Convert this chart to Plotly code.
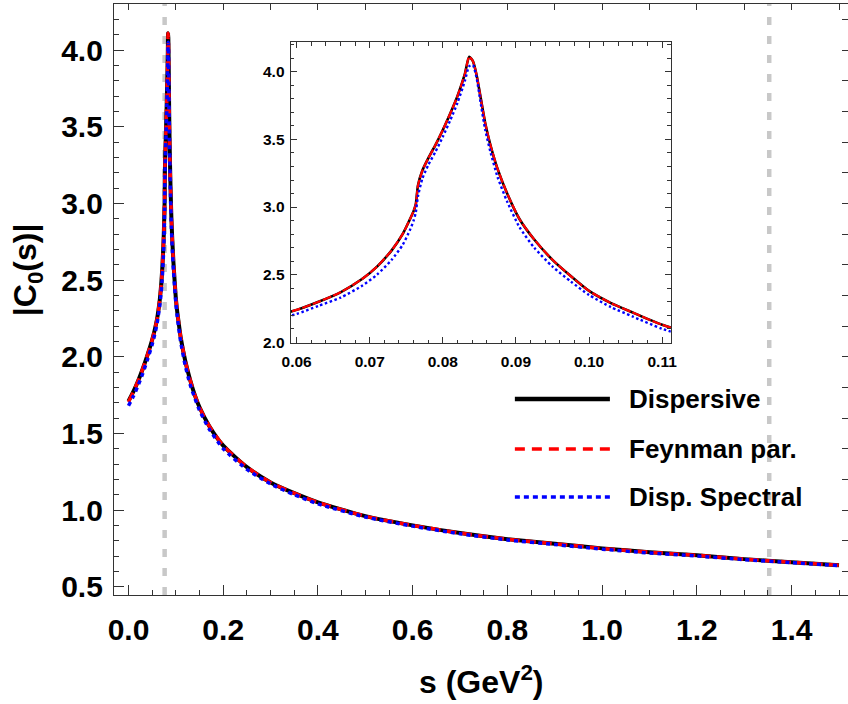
import plotly.graph_objects as go

# ---------------- data ----------------
s_vals = [0.0, 0.01, 0.02, 0.03, 0.04, 0.05, 0.055, 0.06, 0.063, 0.066, 0.069, 0.071,
          0.073, 0.0745, 0.0755, 0.076, 0.0763, 0.0766, 0.0772, 0.078, 0.079, 0.080,
          0.081, 0.082, 0.083, 0.0836, 0.0841, 0.0846, 0.0852, 0.0858, 0.0865, 0.0875,
          0.0888, 0.0905, 0.0925, 0.095, 0.0975, 0.1, 0.103, 0.106, 0.11, 0.12, 0.13,
          0.14, 0.15, 0.17, 0.2, 0.25, 0.3, 0.35, 0.4, 0.5, 0.6, 0.7, 0.8, 0.9, 1.0,
          1.1, 1.2, 1.3, 1.4, 1.5]

dispersive = [1.71, 1.77, 1.84, 1.92, 2.01, 2.11, 2.17, 2.24, 2.30, 2.37, 2.47, 2.56,
              2.68, 2.80, 2.91, 2.97, 3.02, 3.16, 3.27, 3.36, 3.46, 3.57,
              3.69, 3.82, 3.98, 4.11, 4.08, 3.98, 3.80, 3.62, 3.46, 3.28,
              3.10, 2.91, 2.76, 2.61, 2.49, 2.38, 2.29, 2.22, 2.13, 1.97, 1.85,
              1.75, 1.67, 1.55, 1.42, 1.28, 1.18, 1.11, 1.05, 0.96, 0.90, 0.85, 0.81, 0.78, 0.75,
              0.725, 0.705, 0.68, 0.66, 0.64]

feynman = [1.705, 1.77, 1.84, 1.92, 2.01, 2.11, 2.17, 2.24, 2.30, 2.37, 2.47, 2.56,
           2.68, 2.80, 2.91, 2.97, 3.02, 3.16, 3.27, 3.36, 3.46, 3.57,
           3.69, 3.82, 3.98, 4.11, 4.08, 3.98, 3.80, 3.62, 3.46, 3.28,
           3.10, 2.91, 2.76, 2.61, 2.49, 2.38, 2.29, 2.22, 2.13, 1.97, 1.85,
           1.75, 1.67, 1.55, 1.42, 1.28, 1.18, 1.11, 1.05, 0.96, 0.90, 0.85, 0.81, 0.78, 0.75,
           0.725, 0.705, 0.68, 0.66, 0.64]

disp_spectral = [1.68, 1.74, 1.81, 1.89, 1.98, 2.08, 2.14, 2.21, 2.27, 2.33, 2.42, 2.50,
                 2.61, 2.72, 2.83, 2.90, 2.96, 3.08, 3.21, 3.31, 3.41, 3.52,
                 3.64, 3.77, 3.93, 4.04, 4.05, 3.96, 3.76, 3.57, 3.41, 3.22,
                 3.04, 2.85, 2.70, 2.56, 2.45, 2.35, 2.26, 2.19, 2.10, 1.94, 1.82,
                 1.73, 1.65, 1.53, 1.40, 1.265, 1.17, 1.10, 1.04, 0.955, 0.895, 0.845, 0.805, 0.775, 0.745,
                 0.72, 0.70, 0.677, 0.657, 0.637]

main_thresholds = [0.0763, 1.3527]
inset_threshold_dashed = [0.0763]
inset_threshold_solid = [0.0841]

series_names = ["Dispersive", "Feynman par.", "Disp. Spectral"]
series_colors = ["#000000", "#ff0000", "#0000ff"]

# ---------------- layout geometry (pixels) ----------------
W, H = 848, 704
L, R, T, B = 114.3, 848.0, 4.0, 595.0
PW, PH = R - L, B - T

def px(x):
    return (x - L) / PW

def py(y):
    return (B - y) / PH

FONT = "Liberation Sans, Arial, sans-serif"
XR = [-0.0306, 1.519]
YR = [0.446, 4.30]

fig = go.Figure()

series = [dispersive, feynman, disp_spectral]
main_styles = [dict(width=4, dash="solid"),
               dict(width=3.5, dash="10px,6px"),
               dict(width=3.5, dash="4px,4px")]
inset_styles = [dict(width=2.6, dash="solid"),
                dict(width=2.2, dash="9px,2px"),
                dict(width=2.4, dash="2.5px,2.5px")]

for vals, name, col, st in zip(series, series_names, series_colors, main_styles):
    fig.add_trace(go.Scatter(x=s_vals, y=vals, mode="lines", name=name,
                             line=dict(color=col, width=st["width"], dash=st["dash"],
                                       shape="spline", smoothing=0.6),
                             showlegend=False, xaxis="x", yaxis="y"))

for vals, name, col, st in zip(series, series_names, series_colors, inset_styles):
    fig.add_trace(go.Scatter(x=s_vals, y=vals, mode="lines", name=name,
                             line=dict(color=col, width=st["width"], dash=st["dash"],
                                       shape="spline", smoothing=0.6),
                             showlegend=False, xaxis="x2", yaxis="y2"))

# empty traces to carry the mirrored top / right frame ticks
fig.add_trace(go.Scatter(x=[None], y=[None], mode="lines", showlegend=False,
                         hoverinfo="skip", xaxis="x3", yaxis="y"))
fig.add_trace(go.Scatter(x=[None], y=[None], mode="lines", showlegend=False,
                         hoverinfo="skip", xaxis="x", yaxis="y3"))

# threshold lines
for v in main_thresholds:
    fig.add_shape(type="line", xref="x", yref="y domain", x0=v, x1=v, y0=0, y1=1,
                  line=dict(color="#c8c8c8", width=4.5, dash="8px,11px"), layer="below")
for v in inset_threshold_dashed:
    fig.add_shape(type="line", xref="x2", yref="y2 domain", x0=v, x1=v, y0=0, y1=1,
                  line=dict(color="#c8c8c8", width=1.6, dash="4px,3px"), layer="below")
for v in inset_threshold_solid:
    fig.add_shape(type="line", xref="x2", yref="y2 domain", x0=v, x1=v, y0=0, y1=1,
                  line=dict(color="#c8c8c8", width=2.2), layer="below")

# legend (drawn manually to get long line samples)
leg_rows = [399, 449, 497]
leg_dash = ["solid", "10px,7px", "5px,4px"]
leg_w = [4.5, 3.5, 3.5]
for yrow, name, col, d, w in zip(leg_rows, series_names, series_colors, leg_dash, leg_w):
    fig.add_shape(type="line", xref="paper", yref="paper",
                  x0=px(515), x1=px(610), y0=py(yrow), y1=py(yrow),
                  line=dict(color=col, width=w, dash=d))
    fig.add_annotation(xref="paper", yref="paper", x=px(627), y=py(yrow),
                       xanchor="left", yanchor="middle", showarrow=False,
                       text="<b>%s</b>" % name,
                       font=dict(family=FONT, size=26, color="black"))

# axis titles
fig.add_annotation(xref="paper", yref="paper", x=px(27.5), y=py(270),
                   xanchor="center", yanchor="middle", showarrow=False, textangle=-90,
                   text="<b>|C<sub>0</sub>(s)|</b>",
                   font=dict(family=FONT, size=32, color="black"))
fig.add_annotation(xref="paper", yref="paper", x=0.5, y=py(680),
                   xanchor="center", yanchor="middle", showarrow=False,
                   text="<b>s (GeV<sup>2</sup>)</b>",
                   font=dict(family=FONT, size=32, color="black"))

axis_common = dict(showgrid=False, zeroline=False, showline=True, linecolor="#333333",
                   linewidth=1.3, ticks="inside", tickcolor="#333333")

fig.update_layout(
    width=W, height=H,
    margin=dict(l=L, r=W - R, t=T, b=H - B, autoexpand=False),
    paper_bgcolor="white", plot_bgcolor="white",
    showlegend=False,
    xaxis=dict(domain=[0, 1], range=XR, dtick=0.2, tick0=0, tickformat=".1f",
               ticklen=10, tickwidth=1.3, mirror=True,
               minor=dict(dtick=0.05, tick0=0, ticklen=5, ticks="inside", tickcolor="#333333", tickwidth=1),
               tickfont=dict(family=FONT, size=30, color="black", weight="bold"),
               ticklabelstandoff=8, **axis_common),
    yaxis=dict(domain=[0, 1], range=YR, dtick=0.5, tick0=0, tickformat=".1f",
               ticklen=10, tickwidth=1.3, mirror=True,
               minor=dict(dtick=0.1, tick0=0, ticklen=5, ticks="inside", tickcolor="#333333", tickwidth=1),
               tickfont=dict(family=FONT, size=30, color="black", weight="bold"),
               ticklabelstandoff=4, **axis_common),
    xaxis3=dict(overlaying="x", side="top", anchor="y", range=XR, dtick=0.1, tick0=0,
                showticklabels=False, showgrid=False, zeroline=False, showline=False,
                ticks="inside", ticklen=6, tickwidth=1.2, tickcolor="#333333"),
    yaxis3=dict(overlaying="y", side="right", anchor="x", range=YR, dtick=0.2, tick0=0,
                showticklabels=False, showgrid=False, zeroline=False, showline=False,
                ticks="inside", ticklen=6, tickwidth=1.2, tickcolor="#333333"),
    xaxis2=dict(domain=[px(291), px(671)], anchor="y2", range=[0.0592, 0.1112], dtick=0.01,
                tick0=0, tickformat=".2f", ticklen=6, tickwidth=1, mirror="allticks",
                minor=dict(dtick=0.002, tick0=0, ticklen=3.5, ticks="inside", tickcolor="#333333", tickwidth=1),
                tickfont=dict(family=FONT, size=15.5, color="black", weight="bold"),
                ticklabelstandoff=4, **axis_common),
    yaxis2=dict(domain=[py(343.3), py(42)], anchor="x2", range=[1.993, 4.22], dtick=0.5,
                tick0=0, tickformat=".1f", ticklen=6, tickwidth=1, mirror="allticks",
                minor=dict(dtick=0.1, tick0=0, ticklen=3.5, ticks="inside", tickcolor="#333333", tickwidth=1),
                tickfont=dict(family=FONT, size=15.5, color="black", weight="bold"),
                ticklabelstandoff=2, **axis_common),
)

fig.write_html("out.html")
